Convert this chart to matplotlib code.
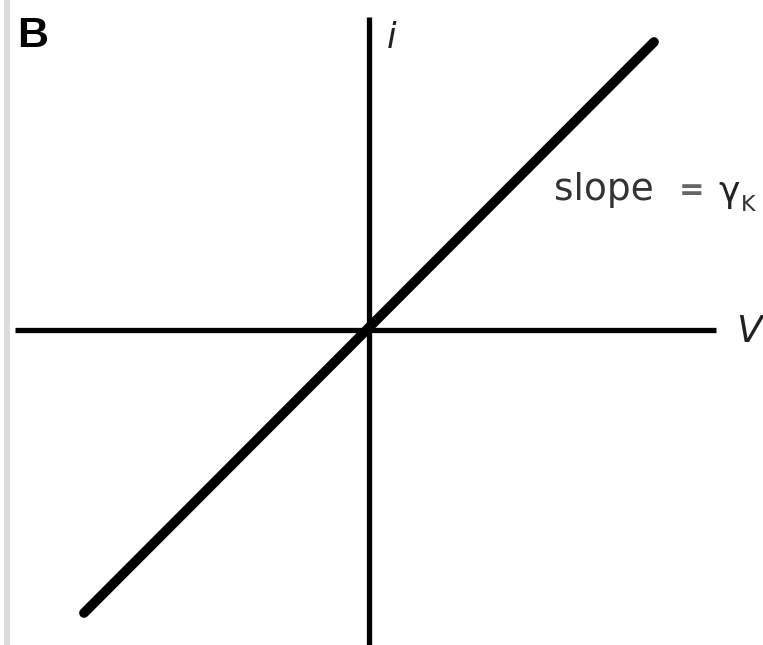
import matplotlib
matplotlib.use('Agg')
import matplotlib.pyplot as plt

# I-V relation of an ohmic channel: i = gamma_K * V
V = [-285, 285]
i = [-283, 288]

# axis extents (same units, origin at the crossing)
V_axis = [-354, 347]
i_axis = [-315, 313]

fig = plt.figure(figsize=(7.63, 6.45), dpi=100)
ax = fig.add_axes([0, 0, 1, 1])
ax.set_xlim(-369, 394)
ax.set_ylim(-315, 330)
ax.axis('off')

# light gray strip at the left edge
fig.patches.append(plt.Rectangle((4 / 763, 0), 6 / 763, 1, transform=fig.transFigure,
                                 color='#dcdcdc', lw=0))

ax.plot(V_axis, [0, 0], color='black', lw=3.8, solid_capstyle='butt')
ax.plot([0, 0], i_axis, color='black', lw=3.8, solid_capstyle='butt')
ax.plot(V, i, color='black', lw=7, solid_capstyle='round')

ax.text(-352, 294, 'B', fontsize=31, fontweight='bold', ha='left', va='center',
        family='Liberation Sans')
ax.text(23, 292, 'i', fontsize=25, style='italic', ha='center', va='center',
        color='#222222')
ax.text(380, -2, 'V', fontsize=27, style='italic', ha='center', va='center',
        color='#222222')

# slope label, pieces spaced like the original
ax.text(185, 130, 'slope', fontsize=27, ha='left', va='baseline', color='#333333')
ax.text(310, 131, '=', fontsize=22, fontweight='bold', ha='left', va='baseline',
        color='#666666')
ax.text(349, 128, 'γ', fontsize=26, ha='left', va='baseline', color='#222222')
ax.text(372, 119, 'K', fontsize=16, ha='left', va='baseline', color='#333333')

fig.savefig('out.png', dpi=100)
